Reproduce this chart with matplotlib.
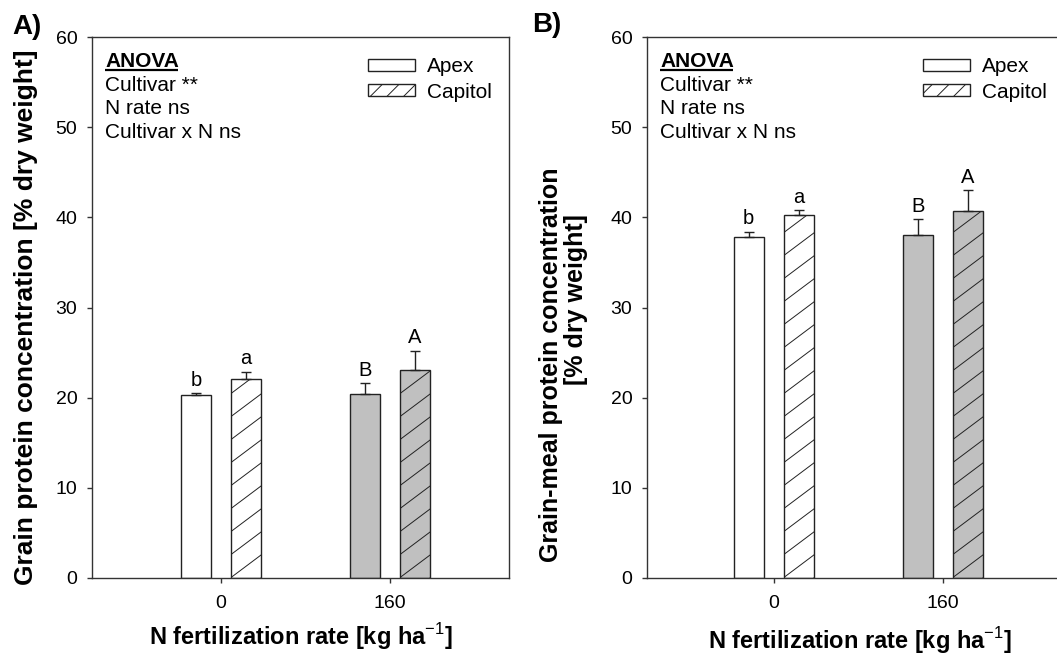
import matplotlib
matplotlib.use("Agg")
import matplotlib.pyplot as plt
import numpy as np

plt.rcParams['font.family'] = ['Liberation Sans', 'DejaVu Sans']
plt.rcParams['hatch.linewidth'] = 0.7
plt.rcParams['mathtext.fontset'] = 'custom'
plt.rcParams['mathtext.rm'] = 'Liberation Sans'
plt.rcParams['mathtext.bf'] = 'Liberation Sans:bold'

# data
rates = ["0", "160"]
cultivars = ["Apex", "Capitol"]
grain_apex = [20.3, 20.4]
grain_apex_se = [0.2, 1.2]
grain_capitol = [22.1, 23.1]
grain_capitol_se = [0.8, 2.1]
grain_letters_apex = ["b", "B"]
grain_letters_capitol = ["a", "A"]

meal_apex = [37.8, 38.0]
meal_apex_se = [0.6, 1.8]
meal_capitol = [40.3, 40.7]
meal_capitol_se = [0.5, 2.3]
meal_letters_apex = ["b", "B"]
meal_letters_capitol = ["a", "A"]

anova_lines = ["Cultivar **", "N rate ns", "Cultivar x N ns"]

fill_colors = ["white", "#c0c0c0"]   # per N rate
width = 0.178
offset = 0.148
H = 541.0  # axes height in px
W = 417.0  # axes width in px


def hatch_bar(ax, bar, xspan):
    # sparse diagonal hatch like the original (about 37 deg, 23 px apart)
    px_x = W / xspan
    px_y = H / 60.0
    x0 = bar.get_x()
    w = bar.get_width()
    h = bar.get_height()
    rise = w * px_x * 0.75 / px_y       # in data y over the bar width
    step = 23.0 / px_y
    y = -rise
    while y < h:
        ln, = ax.plot([x0, x0 + w], [y, y + rise], color="#222222", lw=0.7,
                      zorder=2.5)
        ln.set_clip_path(bar)
        y += step


def panel(ax, apex, apex_se, cap, cap_se, let_a, let_c, xlim):
    x = np.arange(len(rates))
    for i in range(len(rates)):
        ax.bar(x[i] - offset, apex[i], width, color=fill_colors[i],
               edgecolor="#222222", linewidth=1.0, zorder=2)
        bars = ax.bar(x[i] + offset, cap[i], width, color=fill_colors[i],
                      edgecolor="#222222", linewidth=1.0, zorder=2)
        hatch_bar(ax, bars[0], xlim[1] - xlim[0])
        ax.errorbar(x[i] - offset, apex[i], yerr=[[0], [apex_se[i]]], fmt="none",
                    ecolor="#222222", elinewidth=1, capsize=3.6, capthick=1, zorder=3)
        ax.errorbar(x[i] + offset, cap[i], yerr=[[0], [cap_se[i]]], fmt="none",
                    ecolor="#222222", elinewidth=1, capsize=3.6, capthick=1, zorder=3)
        ax.text(x[i] - offset, apex[i] + apex_se[i] + 0.4, let_a[i], ha="center",
                va="bottom", fontsize=14.5)
        ax.text(x[i] + offset, cap[i] + cap_se[i] + 0.4, let_c[i], ha="center",
                va="bottom", fontsize=14.5)
    ax.set_xlim(*xlim)
    ax.set_ylim(0, 60)
    ax.set_yticks([0, 10, 20, 30, 40, 50, 60])
    ax.set_xticks(x)
    ax.set_xticklabels(rates)
    ax.tick_params(direction="out", length=3.6, width=1, labelsize=14,
                   color="#333333", pad=7)
    ax.tick_params(axis="x", pad=9)
    for s in ax.spines.values():
        s.set_color("#333333")
        s.set_linewidth(1)

    # anova text block
    x0 = 13.0 / W
    ax.text(x0, 1 - 30 / H, "ANOVA", transform=ax.transAxes, fontsize=15,
            fontweight="bold", va="baseline", ha="left")
    ax.plot([x0, x0 + 73.0 / W], [1 - 33 / H, 1 - 33 / H], transform=ax.transAxes,
            color="black", lw=1.6, solid_capstyle="butt")
    for k, line in enumerate(anova_lines):
        ax.text(x0, 1 - (54 + k * 23.3) / H, line, transform=ax.transAxes,
                fontsize=15, va="baseline", ha="left")

    h1 = plt.Rectangle((0, 0), 1, 1, facecolor="white", edgecolor="#222222", lw=1)
    h2 = plt.Rectangle((0, 0), 1, 1, facecolor="white", edgecolor="#222222", lw=1,
                       hatch="//")
    ax.legend([h1, h2], cultivars, loc="upper right",
              bbox_to_anchor=(1 - 9.0 / W, 1 - 12 / H), frameon=False, fontsize=15,
              handlelength=2.26, handleheight=0.48, handletextpad=0.58,
              labelspacing=0.3, borderaxespad=0.0)


fig = plt.figure(figsize=(10.57, 6.55), dpi=100)
axA = fig.add_axes([92 / 1057, 1 - 578 / 655, W / 1057, H / 655])
axB = fig.add_axes([647 / 1057, 1 - 578 / 655, W / 1057, H / 655])

panel(axA, grain_apex, grain_apex_se, grain_capitol, grain_capitol_se,
      grain_letters_apex, grain_letters_capitol, (-0.763, 1.704))
panel(axB, meal_apex, meal_apex_se, meal_capitol, meal_capitol_se,
      meal_letters_apex, meal_letters_capitol, (-0.75, 1.717))

xlab = "N fertilization rate [kg ha$^{-1}$]"
fig.text(301 / 1057, 1 - 637 / 655, xlab, fontsize=17, fontweight="bold",
         ha="center", va="center")
fig.text(860 / 1057, 1 - 641 / 655, xlab, fontsize=17, fontweight="bold",
         ha="center", va="center")

fig.text(26 / 1057, 1 - 317 / 655, "Grain protein concentration [% dry weight]",
         fontsize=19, fontweight="bold", rotation=90, ha="center", va="center")
fig.text(551 / 1057, 1 - 365 / 655, "Grain-meal protein concentration",
         fontsize=18, fontweight="bold", rotation=90, ha="center", va="center")
fig.text(576 / 1057, 1 - 300 / 655, "[% dry weight]",
         fontsize=18, fontweight="bold", rotation=90, ha="center", va="center")

fig.text(12 / 1057, 1 - 27 / 655, "A)", fontsize=20, fontweight="bold",
         ha="left", va="center")
fig.text(532 / 1057, 1 - 25 / 655, "B)", fontsize=20, fontweight="bold",
         ha="left", va="center")

fig.savefig("out.png", dpi=100)
